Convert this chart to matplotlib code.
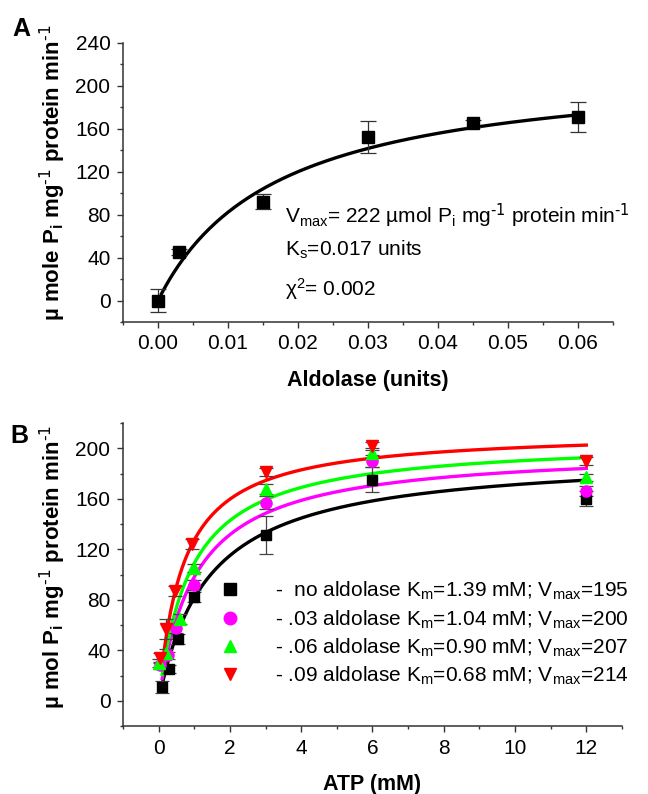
import matplotlib
matplotlib.use("Agg")
import matplotlib.pyplot as plt
import numpy as np
from matplotlib.ticker import MultipleLocator, FormatStrFormatter

plt.rcParams['font.family'] = ['Liberation Sans', 'DejaVu Sans']
plt.rcParams['mathtext.default'] = 'regular'

# panel A: activity vs aldolase
ald_x = [0.0, 0.003, 0.015, 0.030, 0.045, 0.060]
ald_y = [0, 45, 92, 152, 165, 171]
ald_err = [11, 3, 7, 15, 3, 14]
vmax_a = 222
ks_a = 0.017

# panel B: activity vs ATP
atp_x = {
    'black': [0.1, 0.3, 0.55, 1.0, 3, 6, 12],
    'magenta': [0.05, 0.25, 0.5, 1.0, 3, 6, 12],
    'lime': [0.0, 0.2, 0.6, 1.0, 3, 6, 12],
    'red': [0.05, 0.2, 0.45, 0.95, 3, 6, 12],
}
atp_y = {
    'black': [11, 25, 49, 82, 131, 175, 160],
    'magenta': [28, 36, 58, 92, 157, 190, 166],
    'lime': [30, 38, 65, 105, 168, 196, 177],
    'red': [34, 57, 87, 124, 181, 202, 190],
}
atp_err = {
    'black': [5, 3, 4, 4, 15, 10, 6],
    'magenta': [3, 3, 4, 4, 5, 5, 4],
    'lime': [3, 3, 4, 3, 4, 4, 3],
    'red': [4, 8, 4, 4, 3, 3, 3],
}
km_b = {'black': 1.39, 'magenta': 1.04, 'lime': 0.90, 'red': 0.68}
vmax_b = {'black': 195, 'magenta': 200, 'lime': 207, 'red': 214}
markers = {'black': 's', 'magenta': 'o', 'lime': '^', 'red': 'v'}
labels = {
    'black': '-  no aldolase K$_{m}$=1.39 mM; V$_{max}$=195',
    'magenta': '- .03 aldolase K$_{m}$=1.04 mM; V$_{max}$=200',
    'lime': '- .06 aldolase K$_{m}$=0.90 mM; V$_{max}$=207',
    'red': '- .09 aldolase K$_{m}$=0.68 mM; V$_{max}$=214',
}
order = ['black', 'magenta', 'lime', 'red']

INV = r'$^{\text{-1}}$'

fig = plt.figure(figsize=(6.48, 7.94), dpi=100)
axA = fig.add_axes([0.1898, 0.5945, 0.756, 0.3514])
axB = fig.add_axes([0.1898, 0.0856, 0.770, 0.3816])

def style(ax):
    for s in ['top', 'right']:
        ax.spines[s].set_visible(False)
    for s in ['left', 'bottom']:
        ax.spines[s].set_linewidth(1.1)
        ax.spines[s].set_color('#333333')
    ax.tick_params(which='major', direction='out', length=4, width=1.0,
                   labelsize=15, colors='#333333', labelcolor='black', pad=5)
    ax.tick_params(which='minor', direction='out', length=2.5, width=1.0,
                   colors='#333333')

# ---- A ----
xs = np.linspace(0.0005, 0.06, 200)
axA.plot(xs, vmax_a * xs / (ks_a + xs), color='black', lw=2.4, zorder=2)
axA.errorbar(ald_x, ald_y, yerr=ald_err, fmt='s', color='black', ms=8,
             ecolor='#333333', elinewidth=0.9, capsize=6, capthick=0.9, zorder=3)
axA.set_xlim(-0.005, 0.065)
axA.set_ylim(-20, 240)
axA.xaxis.set_major_locator(MultipleLocator(0.01))
axA.xaxis.set_minor_locator(MultipleLocator(0.005))
axA.xaxis.set_major_formatter(FormatStrFormatter('%.2f'))
axA.yaxis.set_major_locator(MultipleLocator(40))
axA.yaxis.set_minor_locator(MultipleLocator(20))
style(axA)
axA.set_xlabel('Aldolase (units)', fontsize=15.5, fontweight='bold', labelpad=12)
axA.set_ylabel('µ mole P$_{i}$ mg' + INV + ' protein min' + INV, fontsize=16,
               fontweight='bold')
axA.yaxis.set_label_coords(-0.113, 0.535)
axA.text(0.0181, 72.2, 'V$_{max}$= 222 µmol P$_{i}$ mg' + INV + ' protein min' + INV,
         fontsize=15, va='baseline')
axA.text(0.0181, 42.0, 'K$_{s}$=0.017 units', fontsize=15, va='baseline')
axA.text(0.0181, 4.7, 'χ$^{2}$= 0.002', fontsize=15, va='baseline')
fig.text(12 / 648, 1 - 36 / 794, 'A', fontsize=18, fontweight='bold')

# ---- B ----
xb = np.linspace(0.1, 12, 300)
for c in order:
    axB.plot(xb, vmax_b[c] * xb / (km_b[c] + xb), color=c, lw=2.4, zorder=2)
for c in order:
    axB.errorbar(atp_x[c], atp_y[c], yerr=atp_err[c], fmt=markers[c], color=c,
                 ms=8 if c != 'black' else 7.5, ecolor='#444444', elinewidth=0.9,
                 capsize=5, capthick=0.9, zorder=3)
axB.set_xlim(-1, 13)
axB.set_ylim(-20, 220)
axB.xaxis.set_major_locator(MultipleLocator(2))
axB.xaxis.set_minor_locator(MultipleLocator(1))
axB.yaxis.set_major_locator(MultipleLocator(40))
axB.yaxis.set_minor_locator(MultipleLocator(20))
style(axB)
axB.set_xlabel('ATP (mM)', fontsize=15.5, fontweight='bold', labelpad=12)
axB.set_ylabel('µ mol P$_{i}$ mg' + INV + ' protein min' + INV, fontsize=16,
               fontweight='bold')
axB.yaxis.set_label_coords(-0.111, 0.524)

# legend rows (axes fractions)
row_base = [0.4257, 0.3323, 0.2389, 0.1454]
for c, yb in zip(order, row_base):
    axB.plot([0.2144], [yb + 0.025], marker=markers[c], color=c, ms=9,
             ls='none', transform=axB.transAxes, clip_on=False)
    axB.text(0.3046, yb, labels[c], fontsize=15, va='baseline',
             transform=axB.transAxes)
fig.text(10 / 648, 1 - 443 / 794, 'B', fontsize=18, fontweight='bold')

fig.savefig('out.png', dpi=100)
